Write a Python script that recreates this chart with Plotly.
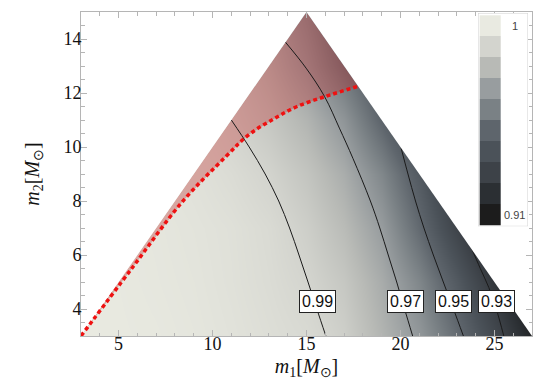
import numpy as np
import plotly.graph_objects as go

m1_grid = [3, 5, 7, 9, 11, 13, 15, 17, 19, 21, 23, 25, 27]
m2_grid = [3, 5, 7, 9, 11, 13, 15]

overlap_m2_3 = [1.000, 0.9995, 0.999, 0.998, 0.9965, 0.9945, 0.9925, 0.988, 0.978, 0.968, 0.9525, 0.9345, 0.915]
overlap_m2_5 = [1.000, 0.9993, 0.9985, 0.9975, 0.9958, 0.9935, 0.9903, 0.985, 0.975, 0.962, 0.944, 0.924, 0.905]
overlap_m2_7 = [1.000, 0.999, 0.9982, 0.997, 0.9955, 0.9928, 0.9878, 0.9805, 0.9695, 0.9515, 0.931, 0.910, 0.890]
overlap_m2_9 = [0.9995, 0.999, 0.9975, 0.996, 0.9935, 0.9898, 0.984, 0.9755, 0.962, 0.944, 0.922, 0.900, 0.880]
overlap_m2_11 = [0.999, 0.9985, 0.997, 0.995, 0.990, 0.985, 0.978, 0.967, 0.949, 0.930, 0.910, 0.890, 0.870]
overlap_m2_13 = [0.998, 0.997, 0.9955, 0.993, 0.988, 0.980, 0.9695, 0.955, 0.940, 0.920, 0.900, 0.885, 0.870]
overlap_m2_15 = [0.997, 0.996, 0.994, 0.991, 0.985, 0.976, 0.964, 0.948, 0.932, 0.912, 0.895, 0.880, 0.865]

# contour lines (m1, m2)
c099_m1 = [11.0, 11.95, 12.8, 13.52, 14.1, 14.6, 15.08, 15.55, 16.03]
c099_m2 = [11.0, 10.0, 9.0, 8.0, 7.0, 6.0, 5.0, 4.0, 3.0]
c097_m1 = [13.87, 14.98, 15.96, 16.75, 17.47, 18.4, 18.9, 19.35, 19.8, 20.22, 20.65]
c097_m2 = [13.89, 12.92, 11.87, 10.7, 9.58, 8.0, 7.0, 6.0, 5.0, 4.0, 3.0]
c095_m1 = [20.03, 20.4, 20.8, 21.25, 21.75, 22.28, 22.82, 23.35]
c095_m2 = [9.97, 9.0, 8.0, 7.0, 6.0, 5.0, 4.0, 3.0]
c093_m1 = [23.77, 24.25, 24.7, 25.1, 25.5]
c093_m2 = [6.27, 5.5, 4.8, 4.0, 3.0]
contour_levels = ["0.99", "0.97", "0.95", "0.93"]

# red dotted boundary
red_m1 = [3.0, 5.7, 8.4, 10.7, 11.9, 13.3, 14.5, 16.0, 17.75]
red_m2 = [3.0, 5.5, 7.98, 9.64, 10.44, 11.06, 11.5, 11.87, 12.25]

# legend swatches
legend_vals = [0.91, 0.92, 0.93, 0.94, 0.95, 0.96, 0.97, 0.98, 0.99, 1.00]
legend_cols = ["#1c1c1c", "#2b2f33", "#3d4248", "#4b5259", "#5e656c",
               "#7a8185", "#989d9f", "#b8bab6", "#d3d4ce", "#e9eae1"]

zmin, zmax = 0.91, 1.00
cscale = [[(v - zmin) / (zmax - zmin), c] for v, c in zip(legend_vals, legend_cols)]
cscale[0][0] = 0.0
cscale[-1][0] = 1.0

overlap = [overlap_m2_3, overlap_m2_5, overlap_m2_7, overlap_m2_9,
           overlap_m2_11, overlap_m2_13, overlap_m2_15]

serif = "Liberation Serif, Times New Roman, serif"
sans = "Liberation Sans, Arial, sans-serif"

fig = go.Figure()

fig.add_trace(go.Heatmap(x=m1_grid, y=m2_grid, z=overlap, zmin=zmin, zmax=zmax,
                         colorscale=cscale, zsmooth="best", showscale=False,
                         hoverinfo="skip"))

# red tinted region above the dotted curve
fig.add_trace(go.Scatter(x=red_m1 + [15, 3], y=red_m2 + [15, 3], mode="lines",
                         fill="toself", fillcolor="rgba(190,40,40,0.33)",
                         line=dict(width=0), hoverinfo="skip"))

contours = [(c099_m1, c099_m2), (c097_m1, c097_m2), (c095_m1, c095_m2), (c093_m1, c093_m2)]
for cx, cy in contours:
    fig.add_trace(go.Scatter(x=cx, y=cy, mode="lines",
                             line=dict(color="#1a1a1a", width=1, shape="spline"),
                             hoverinfo="skip"))

# white outside the triangle m2 <= m1, m1 + m2 <= 30
fig.add_trace(go.Scatter(x=[2, 16, 2, 2], y=[2, 16, 16, 2], mode="lines", fill="toself",
                         fillcolor="white", line=dict(width=0), hoverinfo="skip"))
fig.add_trace(go.Scatter(x=[14, 28, 28, 14], y=[16, 2, 16, 16], mode="lines", fill="toself",
                         fillcolor="white", line=dict(width=0), hoverinfo="skip"))

fig.add_trace(go.Scatter(x=red_m1, y=red_m2, mode="lines",
                         line=dict(color="#ee1111", width=3.5, dash="4px,3px", shape="spline"),
                         hoverinfo="skip"))

# contour labels
label_y = 4.29
for (cx, cy), lab in zip(contours, contour_levels):
    lx = float(np.interp(label_y, cy[::-1], cx[::-1])) + 0.15
    fig.add_annotation(x=lx, y=label_y, text=lab, showarrow=False,
                       font=dict(family=sans, size=16, color="#111"),
                       bgcolor="white", bordercolor="#222", borderwidth=1, borderpad=2)

# bar legend in an inset (pixel units)
band_h = 21.0
fig.add_trace(go.Heatmap(x=[1.7, 22.7], y=[1 + i * band_h for i in range(11)],
                         z=[[v] for v in legend_vals], zmin=zmin, zmax=zmax,
                         colorscale=cscale, showscale=False,
                         xaxis="x2", yaxis="y2", hoverinfo="skip"))
fig.add_trace(go.Scatter(x=[0, 50, 50, 0, 0], y=[0, 0, 213.3, 213.3, 0], mode="lines",
                         line=dict(color="#d0d0d0", width=1),
                         xaxis="x2", yaxis="y2", hoverinfo="skip"))
fig.add_annotation(x=36.5, y=1 + 9.5 * band_h, xref="x2", yref="y2", text="1",
                   showarrow=False, font=dict(family=sans, size=11, color="#444"))
fig.add_annotation(x=36.5, y=1 + 0.5 * band_h, xref="x2", yref="y2", text="0.91",
                   showarrow=False, font=dict(family=sans, size=11, color="#444"))

frame = "#b5b5b5"
fig.update_layout(
    width=545, height=385,
    margin=dict(l=73, r=21, t=4, b=57, pad=0),
    paper_bgcolor="white", plot_bgcolor="white",
    showlegend=False,
    xaxis=dict(range=[3, 27], tick0=0, dtick=5, ticks="inside", ticklen=6,
               tickcolor=frame, showline=True, linecolor=frame, linewidth=1,
               mirror="allticks", showgrid=False, zeroline=False,
               minor=dict(dtick=1, ticks="inside", ticklen=3.5, tickcolor=frame),
               ticklabelstandoff=-9,
               tickfont=dict(family=serif, size=18, color="#111"),
               title=dict(text="<i>m</i><sub>1</sub>[<i>M</i><sub>⊙</sub>]",
                          font=dict(family=serif, size=20, color="#111"), standoff=6)),
    yaxis=dict(range=[3, 15], tick0=0, dtick=2, ticks="inside", ticklen=6,
               tickcolor=frame, showline=True, linecolor=frame, linewidth=1,
               mirror="allticks", showgrid=False, zeroline=False,
               minor=dict(dtick=0.5, ticks="inside", ticklen=3.5, tickcolor=frame),
               ticklabelstandoff=-5,
               tickfont=dict(family=serif, size=18, color="#111"),
               title=dict(text="<i>m</i><sub>2</sub>[<i>M</i><sub>⊙</sub>]",
                          font=dict(family=serif, size=20, color="#111"), standoff=18)),
    xaxis2=dict(domain=[(470 - 73) / 451, (520 - 73) / 451], range=[0, 50],
                visible=False, anchor="y2"),
    yaxis2=dict(domain=[(328 - 218.3) / 324, (328 - 5) / 324], range=[0, 213.3],
                visible=False, anchor="x2"),
)

fig.write_html("out.html")
